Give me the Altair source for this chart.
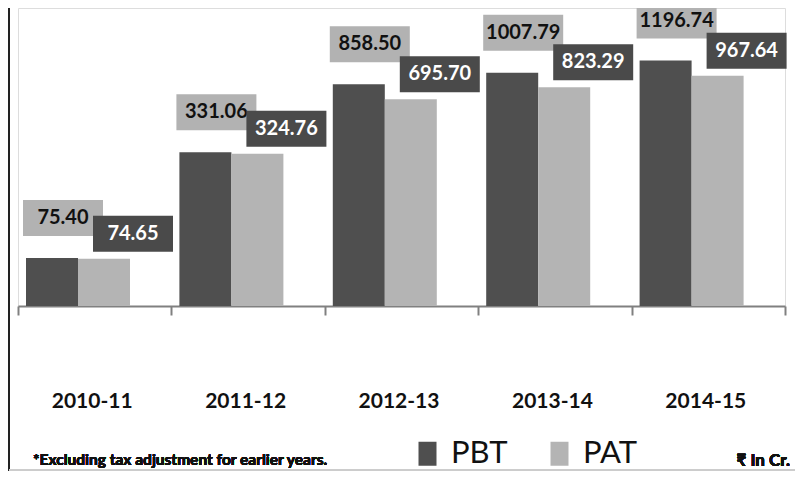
import altair as alt
import pandas as pd

years = ["2010-11", "2011-12", "2012-13", "2013-14", "2014-15"]
pbt = [75.40, 331.06, 858.50, 1007.79, 1196.74]
pat = [74.65, 324.76, 695.70, 823.29, 967.64]
series = ["PBT", "PAT"]
bar_colors = ["#4f4f4f", "#b4b4b4"]
box_colors = {"PBT": "#b2b2b2", "PAT": "#4a4a4a"}
text_colors = {"PBT": "#111111", "PAT": "#ffffff"}

rows = []
for y, a, b in zip(years, pbt, pat):
    rows.append({"year": y, "series": "PBT", "value": a, "label": f"{a:.2f}"})
    rows.append({"year": y, "series": "PAT", "value": b, "label": f"{b:.2f}"})
df = pd.DataFrame(rows)

FONT = "Lato"
ymin, ymax = 38.5, 2500

xenc = alt.X("year:N", sort=years, title=None,
             scale=alt.Scale(paddingInner=0, paddingOuter=0),
             axis=alt.Axis(labelAngle=0, labelFont=FONT, labelFontSize=21,
                           labelFontWeight="bold", labelColor="#111111",
                           labelPadding=75, labelOffset=-3,
                           tickBand="extent", ticks=True, tickSize=9,
                           tickColor="#808080", tickWidth=2,
                           domainColor="#808080", domainWidth=2, grid=False))
yscale = alt.Scale(type="log", domain=[ymin, ymax], clamp=True)
yenc = alt.Y("value:Q", scale=yscale, axis=None)

legend_shape = "M-0.75,-1 L0.75,-1 L0.75,1 L-0.75,1 Z"
bars = alt.Chart(df).mark_bar().encode(
    x=xenc,
    xOffset=alt.XOffset("series:N", sort=series,
                        scale=alt.Scale(range=[8, 112], paddingInner=0, paddingOuter=0)),
    y=yenc,
    y2=alt.datum(ymin),
    color=alt.Color("series:N", sort=series,
                    scale=alt.Scale(domain=series, range=bar_colors),
                    legend=alt.Legend(orient="none", legendX=394, legendY=430,
                                      direction="horizontal", title=None,
                                      symbolType=legend_shape, symbolSize=576,
                                      symbolStrokeWidth=0,
                                      labelFont=FONT, labelFontSize=31,
                                      labelColor="#111111", columnPadding=36,
                                      labelOffset=8)),
)

box_shape = "M-1,-0.45 L1,-0.45 L1,0.45 L-1,0.45 Z"
label_layers = []
for s, off in [("PBT", -40), ("PAT", -25)]:
    base = alt.Chart(df).transform_filter(alt.datum.series == s).encode(
        x=alt.X("year:N", sort=years),
        xOffset=alt.XOffset("series:N", sort=series,
                            scale=alt.Scale(type="point", domain=series,
                                            range=[45, 115], padding=0)),
        y=alt.Y("value:Q", scale=yscale, axis=None),
    )
    box = base.mark_point(shape=box_shape, size=6400, filled=True, opacity=1,
                          color=box_colors[s], yOffset=off, strokeWidth=0)
    txt = base.mark_text(font=FONT, fontSize=20, fontWeight="bold",
                         color=text_colors[s], baseline="middle", align="center",
                         yOffset=off).encode(text="label:N")
    label_layers += [box, txt]

footer = alt.Chart(df).mark_text(text="*Excluding tax adjustment for earlier years.",
                                 font=FONT, fontSize=15.5, fontWeight="bold",
                                 align="left", baseline="middle", color="#111111").encode(
    x=alt.value(15), y=alt.value(452))
unit = alt.Chart(df).mark_text(text="₹ In Cr.", font=FONT, fontSize=17, fontWeight="bold",
                               align="right", baseline="middle", color="#111111").encode(
    x=alt.value(772), y=alt.value(453))
left_border = alt.Chart(df).mark_rule(color="#222222", strokeWidth=2).encode(
    x=alt.value(-9), y=alt.value(-10), y2=alt.value(463))
bottom_border = alt.Chart(df).mark_rule(color="#cccccc", strokeWidth=1).encode(
    x=alt.value(-9), x2=alt.value(777), y=alt.value(462))

chart = alt.layer(bars, *label_layers, footer, unit, left_border, bottom_border).resolve_scale(
    xOffset="independent"
).properties(
    width=767, height=298,
    autosize=alt.AutoSizeParams(type="none"),
    padding={"left": 10, "top": 0, "right": 10, "bottom": 165},
).configure_view(stroke=None).configure(background="white")

chart.save("out.html", embed_options={"renderer": "svg", "actions": False})
